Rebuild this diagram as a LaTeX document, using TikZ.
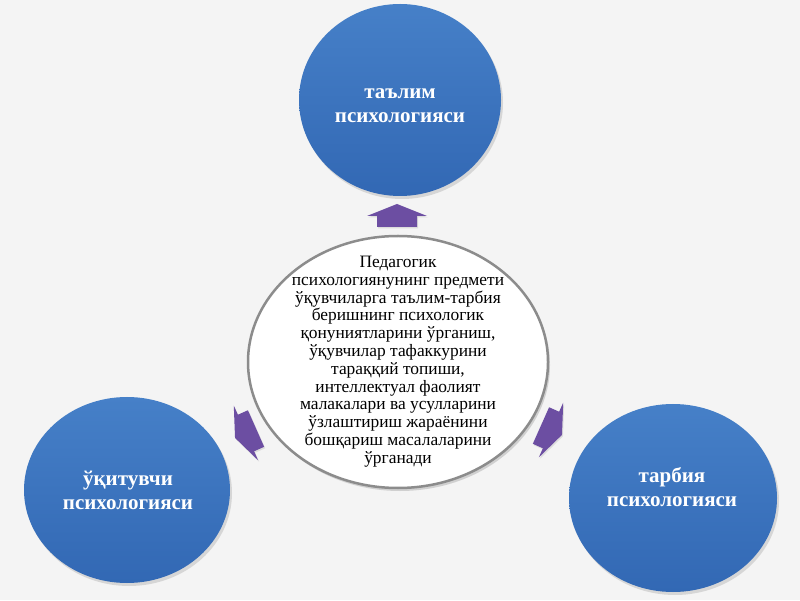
\documentclass[tikz,border=0pt]{standalone}
\usepackage{fontspec}
\setmainfont{Liberation Serif}
\usetikzlibrary{shapes.geometric,shadows}
\definecolor{bgc}{RGB}{244,244,244}
\definecolor{bluetop}{RGB}{70,128,200}
\definecolor{bluebot}{RGB}{50,104,180}
\definecolor{arrowc}{RGB}{108,78,162}
\definecolor{rimc}{RGB}{140,140,140}
\tikzset{
  blueball/.style={ellipse, inner sep=0pt, top color=bluetop, bottom color=bluebot, draw=none,
    drop shadow={opacity=0.25, shadow xshift=2pt, shadow yshift=-3pt}},
  bluetext/.style={text=white, align=center, font=\fontsize{21}{24}\selectfont\bfseries},
  centreball/.style={ellipse, inner sep=0pt, fill=white, draw=rimc, line width=2.5pt,
    drop shadow={opacity=0.3, shadow xshift=2pt, shadow yshift=-3pt}},
  centretext/.style={align=center, text=black, font=\fontsize{17.4}{17.8}\selectfont},
  purplearrow/.pic={\fill[arrowc, drop shadow={opacity=0.2, shadow xshift=1pt, shadow yshift=-1.5pt}]
     (0,12) -- (30,0) -- (20,0) -- (20,-11) -- (-20,-11) -- (-20,0) -- (-30,0) -- cycle;}
}
\begin{document}
\begin{tikzpicture}[x=1pt,y=1pt]
\fill[bgc] (0,0) rectangle (800,600);
\useasboundingbox (0,0) rectangle (800,600);
% outer circles
\node[blueball, minimum width=202pt, minimum height=192pt] (top) at (400,500) {};
\node[blueball, minimum width=206pt, minimum height=186pt] (left) at (127,110) {};
\node[blueball, minimum width=208pt, minimum height=188pt] (right) at (673,102) {};
\node[bluetext] (toptext) at (400,494) {таълим\\психологияси};
\node[bluetext] (lefttext) at (128,110) {ўқитувчи\\психологияси};
\node[bluetext] (righttext) at (672,113) {тарбия\\психологияси};
% centre
\node[centreball, minimum width=300pt, minimum height=252pt] (centre) at (398,238) {};
\node[centretext] (centretext) at (398,238.5) {Педагогик\\психологиянунинг предмети\\ўқувчиларга таълим-тарбия\\беришнинг психологик\\қонуниятларини ўрганиш,\\ўқувчилар тафаккурини\\тараққий топиши,\\интеллектуал фаолият\\малакалари ва усулларини\\ўзлаштириш жараёнини\\бошқариш масалаларини\\ўрганади};
% arrows
\pic at (397,384) {purplearrow};
\pic[rotate=114] at (246,167) {purplearrow};
\pic[rotate=-114] at (551,170) {purplearrow};
\end{tikzpicture}
\end{document}
